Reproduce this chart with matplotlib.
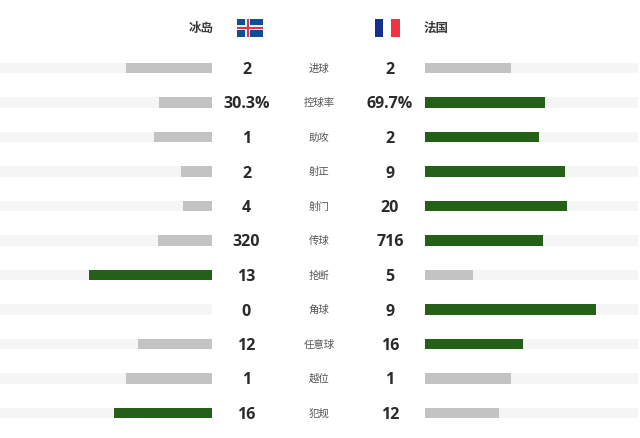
import matplotlib
matplotlib.use("Agg")
import matplotlib.pyplot as plt
from matplotlib.patches import Rectangle

plt.rcParams['font.family'] = ['Noto Sans CJK SC', 'DejaVu Sans']

# 数据
stats = ['进球', '控球率', '助攻', '射正', '射门', '传球', '抢断', '角球', '任意球', '越位', '犯规']
left_labels = ['2', '30.3%', '1', '2', '4', '320', '13', '0', '12', '1', '16']
right_labels = ['2', '69.7%', '2', '9', '20', '716', '5', '9', '16', '1', '12']
# 条形长度，按图上读出来的
left_bars = [86, 53, 58, 31, 29, 54, 123, 0, 74, 86, 98]
right_bars = [86, 120, 114, 140, 142, 118, 48, 171, 98, 86, 74]
left_win = [False, False, False, False, False, False, True, False, False, False, True]
right_win = [False, True, True, True, True, True, False, True, True, False, False]

GREEN = '#256018'
GREY = '#c3c3c3'
TRACK = '#f5f5f5'
TEXT = '#2a2a2a'

fig = plt.figure(figsize=(6.4, 4.38), dpi=100)
ax = fig.add_axes([0, 0, 1, 1])
ax.set_xlim(0, 640)
ax.set_ylim(438, 0)
ax.axis('off')

left_end = 212
right_start = 425
right_end = 638
bar_h = 10.5

rows = [68 + 34.5 * i for i in range(len(stats))]

ax.barh(rows, [left_end] * len(rows), left=0, height=bar_h, color=TRACK)
ax.barh(rows, [right_end - right_start] * len(rows), left=right_start, height=bar_h, color=TRACK)
ax.barh(rows, left_bars, left=[left_end - b for b in left_bars], height=bar_h,
        color=[GREEN if w else GREY for w in left_win])
ax.barh(rows, right_bars, left=right_start, height=bar_h,
        color=[GREEN if w else GREY for w in right_win])

for y, name, lv, rv in zip(rows, stats, left_labels, right_labels):
    ax.text(246.5, y + 2, lv, ha='center', va='center', fontsize=11.5, fontweight='bold',
            family='Open Sans', color=TEXT)
    ax.text(390, y + 2, rv, ha='center', va='center', fontsize=11.5, fontweight='bold',
            family='Open Sans', color=TEXT)
    ax.text(319, y + 0.5, name, ha='center', va='center', fontsize=7.5, color='#555555')

ax.text(214, 28.5, '冰岛', ha='right', va='center', fontsize=9, fontweight='bold', color='#3a3a3a')
ax.text(424, 28.5, '法国', ha='left', va='center', fontsize=9, fontweight='bold', color='#3a3a3a')

# 冰岛国旗
ax.add_patch(Rectangle((237, 19), 26, 17.5, color='#0f4f96', lw=0))
ax.add_patch(Rectangle((245, 19), 5, 17.5, color='#f2e9ec', lw=0))
ax.add_patch(Rectangle((237, 25.3), 26, 5, color='#f2e9ec', lw=0))
ax.add_patch(Rectangle((246.5, 19), 2, 17.5, color='#d8384f', lw=0))
ax.add_patch(Rectangle((237, 26.8), 26, 2, color='#d8384f', lw=0))

# 法国国旗
ax.add_patch(Rectangle((374.5, 19), 8.5, 17.5, color='#12308c', lw=0))
ax.add_patch(Rectangle((391, 19), 9, 17.5, color='#ee3345', lw=0))

fig.savefig('out.png', dpi=100)
